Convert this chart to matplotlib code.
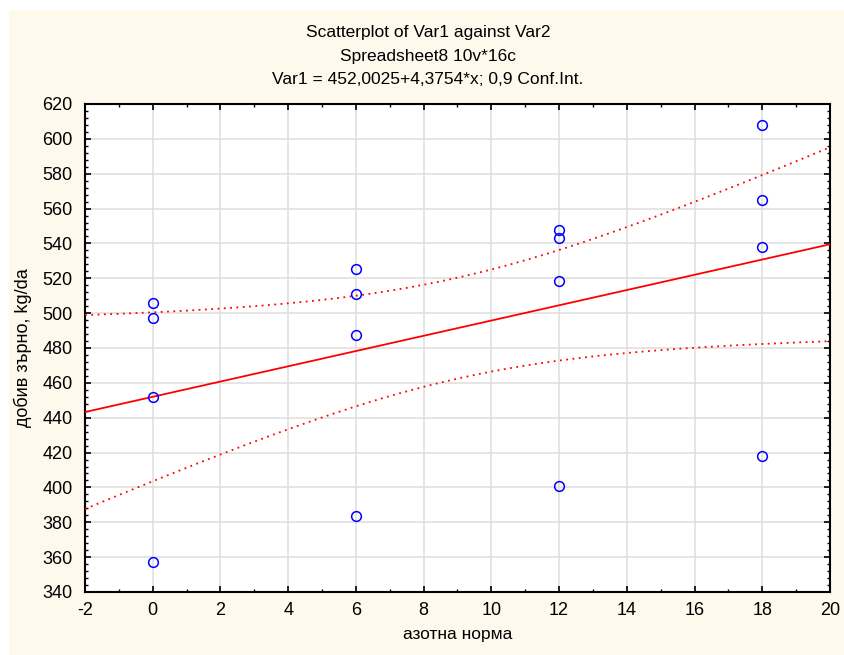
import numpy as np
import matplotlib.pyplot as plt
from matplotlib.patches import Rectangle
from matplotlib.ticker import MultipleLocator

# nitrogen rate (x) and grain yield (y)
nitrogen = [0, 0, 0, 0, 6, 6, 6, 6, 12, 12, 12, 12, 18, 18, 18, 18]
yield_kg = [506, 497, 452, 357,
            525.6, 511.2, 487.2, 383.6,
            547.9, 543.1, 518.5, 400.8,
            608, 564.7, 538.1, 417.9]

intercept, slope = 452.0025, 4.3754
conf = 0.9
t_crit = 1.7613  # t(0.95, df=14)

title_lines = ["Scatterplot of Var1 against Var2",
               "Spreadsheet8 10v*16c",
               "Var1 = 452,0025+4,3754*x; 0,9 Conf.Int."]

plt.rcParams["font.family"] = ["Liberation Sans", "DejaVu Sans"]
plt.rcParams["axes.unicode_minus"] = False


def main():
    x = np.array(nitrogen, dtype=float)
    y = np.array(yield_kg, dtype=float)
    n = len(x)

    resid = y - (intercept + slope * x)
    s = np.sqrt(np.sum(resid ** 2) / (n - 2))
    sxx = np.sum((x - x.mean()) ** 2)

    xs = np.linspace(-2, 20, 200)
    fit = intercept + slope * xs
    half = t_crit * s * np.sqrt(1.0 / n + (xs - x.mean()) ** 2 / sxx)

    fig = plt.figure(figsize=(8.45, 6.55), dpi=100, facecolor="white")
    fig.patches.append(Rectangle((9 / 845, 0), 1, 645 / 655, transform=fig.transFigure,
                                 facecolor="#FEF9EC", edgecolor="none", zorder=-10))

    ax = fig.add_axes([85 / 845, 63 / 655, 745 / 845, 488 / 655])
    ax.set_facecolor("white")

    ax.plot(xs, fit, color="#FF0000", linewidth=1.3, zorder=3)
    ax.plot(xs, fit + half, color="#FF0000", linewidth=1.3, linestyle=(0, (1, 2.5)), zorder=3)
    ax.plot(xs, fit - half, color="#FF0000", linewidth=1.3, linestyle=(0, (1, 2.5)), zorder=3)
    ax.plot(x, y, "o", markerfacecolor="none", markeredgecolor="#0000FF",
            markersize=7, markeredgewidth=1.1, zorder=4)

    ax.set_xlim(-2, 20)
    ax.set_ylim(340, 620)
    ax.xaxis.set_major_locator(MultipleLocator(2))
    ax.xaxis.set_minor_locator(MultipleLocator(1))
    ax.yaxis.set_major_locator(MultipleLocator(20))
    ax.yaxis.set_minor_locator(MultipleLocator(4))
    ax.tick_params(which="both", direction="in", top=True, right=True,
                   labelsize=13, colors="black")
    ax.tick_params(which="major", length=4, width=1.2)
    ax.tick_params(which="minor", length=2.5, width=1)
    ax.tick_params(axis="x", pad=7)
    ax.tick_params(axis="y", pad=9)
    ax.grid(True, which="major", color="#DEDEDE", linewidth=1.1)
    for sp in ax.spines.values():
        sp.set_linewidth(1.5)
        sp.set_color("black")

    ax.set_xlabel("азотна норма", fontsize=12.5, labelpad=6)
    ax.set_ylabel("добив зърно, kg/da", fontsize=13, labelpad=7)

    for i, line in enumerate(title_lines):
        fig.text(428 / 845, 1 - (33 + 23 * i) / 655, line, ha="center", va="center",
                 fontsize=12.5)

    fig.savefig("out.png", dpi=100, facecolor=fig.get_facecolor())


if __name__ == "__main__":
    main()
